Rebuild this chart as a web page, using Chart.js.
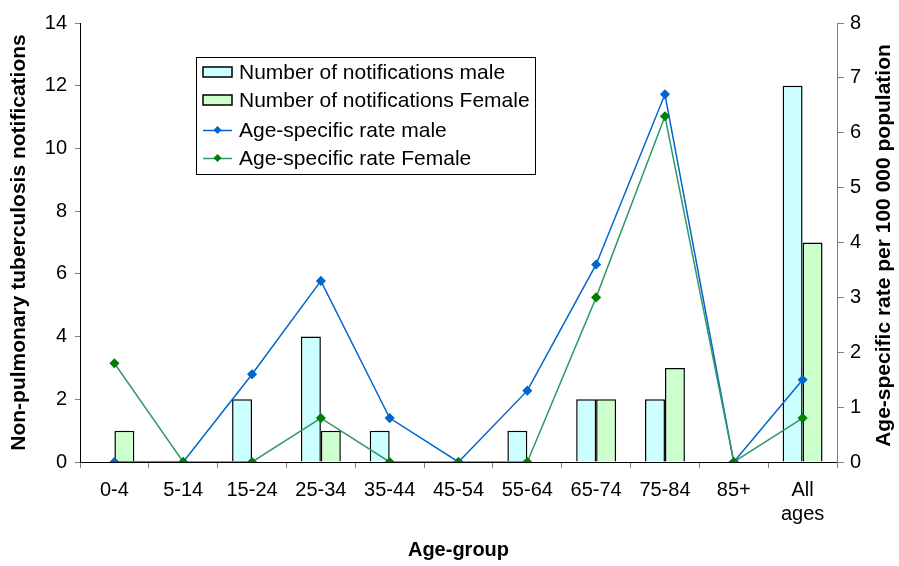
<!DOCTYPE html>
<html><head><meta charset="utf-8">
<script src="https://cdn.jsdelivr.net/npm/chart.js@4/dist/chart.umd.min.js"></script>
<style>html,body{margin:0;padding:0;background:#fff}#wrap{width:899px;height:566px;position:relative}</style>
</head><body><div id="wrap"><canvas id="c" width="899" height="566"></canvas></div>
<script>
const categories = ['0-4','5-14','15-24','25-34','35-44','45-54','55-64','65-74','75-84','85+','All ages'];
const notificationsMale = [0,0,2,4,1,0,1,2,2,0,12];
const notificationsFemale = [1,0,0,1,0,0,0,2,3,0,7];
const rateMale = [0,0,1.6,3.3,0.8,0,1.3,3.6,6.7,0,1.5];
const rateFemale = [1.8,0,0,0.8,0,0,0,3.0,6.3,0,0.8];
const leftTickMax = 14, leftTickStep = 2;
const rightTickMax = 8, rightTickStep = 1;
const leftTitle = 'Non-pulmonary tuberculosis notifications';
const rightTitle = 'Age-specific rate per 100 000 population';
const xTitle = 'Age-group';

const FONT = "'Liberation Sans', Arial, sans-serif";

const customPlugin = {
  id: 'custom',
  afterDraw(chart) {
    const ctx = chart.ctx;
    const ca = chart.chartArea;
    // right axis title (reads bottom-to-top)
    ctx.save();
    ctx.font = 'bold 21px ' + FONT;
    ctx.fillStyle = '#000';
    ctx.textAlign = 'center';
    ctx.textBaseline = 'middle';
    ctx.translate(884, (ca.top + ca.bottom) / 2 + 3);
    ctx.rotate(-Math.PI / 2);
    ctx.fillText(rightTitle, 0, 0);
    ctx.restore();
    // legend box
    const bx = 196, by = 57, bw = 339, bh = 117;
    ctx.save();
    ctx.fillStyle = '#fff';
    ctx.fillRect(bx, by, bw, bh);
    ctx.strokeStyle = '#000';
    ctx.lineWidth = 1;
    ctx.strokeRect(bx + 0.5, by + 0.5, bw, bh);
    ctx.font = '21px ' + FONT;
    ctx.textBaseline = 'middle';
    ctx.textAlign = 'left';
    const rows = [72, 100, 130, 158];
    chart.data.datasets.forEach((ds, i) => {
      const y = rows[i];
      if (ds.type === 'line') {
        ctx.strokeStyle = ds.borderColor;
        ctx.lineWidth = 1.5;
        ctx.beginPath(); ctx.moveTo(203, y + 0.5); ctx.lineTo(232, y + 0.5); ctx.stroke();
        ctx.fillStyle = ds.pointBackgroundColor;
        ctx.beginPath();
        ctx.moveTo(217.5, y - 4); ctx.lineTo(221.5, y); ctx.lineTo(217.5, y + 4); ctx.lineTo(213.5, y);
        ctx.closePath(); ctx.fill();
      } else {
        ctx.fillStyle = ds.backgroundColor;
        ctx.fillRect(203, y - 5, 29, 10);
        ctx.strokeStyle = '#000';
        ctx.lineWidth = 1.5;
        ctx.strokeRect(203, y - 5, 29, 10);
      }
      ctx.fillStyle = '#000';
      ctx.fillText(ds.label, 239, y + 1);
    });
    ctx.restore();
  }
};

new Chart(document.getElementById('c'), {
  data: {
    labels: categories,
    datasets: [
      { type: 'bar', label: 'Number of notifications male', data: notificationsMale, yAxisID: 'y',
        backgroundColor: '#CCFFFF', borderColor: '#000', borderWidth: 1.5, order: 2,
        categoryPercentage: 0.58, barPercentage: 1 },
      { type: 'bar', label: 'Number of notifications Female', data: notificationsFemale, yAxisID: 'y',
        backgroundColor: '#CCFFCC', borderColor: '#000', borderWidth: 1.5, order: 2,
        categoryPercentage: 0.58, barPercentage: 1 },
      { type: 'line', label: 'Age-specific rate male', data: rateMale, yAxisID: 'y1',
        borderColor: '#0066CC', backgroundColor: '#0066CC', pointBackgroundColor: '#0066CC', pointBorderColor: '#0066CC',
        borderWidth: 1.5, pointStyle: 'rectRot', pointRadius: 4, tension: 0, order: 1 },
      { type: 'line', label: 'Age-specific rate Female', data: rateFemale, yAxisID: 'y1',
        borderColor: '#339966', backgroundColor: '#008000', pointBackgroundColor: '#008000', pointBorderColor: '#008000',
        borderWidth: 1.5, pointStyle: 'rectRot', pointRadius: 4, tension: 0, order: 0 }
    ]
  },
  options: {
    responsive: false, devicePixelRatio: 1, animation: false,
    layout: { padding: { top: 23, left: 0, right: 0, bottom: 0 } },
    plugins: { legend: { display: false }, tooltip: { enabled: false } },
    scales: {
      x: {
        offset: true,
        grid: { offset: true, drawOnChartArea: false, drawTicks: true, tickLength: 6, color: '#808080' },
        border: { display: true, color: '#000', width: 1 },
        ticks: { color: '#000', font: { family: FONT, size: 20 }, padding: 10, maxRotation: 0, autoSkip: false,
          callback: function(v, i) { const l = categories[i]; return l.indexOf(' ') > -1 ? l.split(' ') : l; } },
        title: { display: true, text: xTitle, color: '#000', font: { family: FONT, size: 20, weight: 'bold' }, padding: { top: 4, bottom: 4 } },
        afterFit(s) { s.height = 104; }
      },
      y: {
        position: 'left', min: 0, max: leftTickMax,
        grid: { drawOnChartArea: false, drawTicks: true, tickLength: 5, color: '#808080' },
        border: { display: true, color: '#000', width: 1 },
        ticks: { stepSize: leftTickStep, color: '#000', font: { family: FONT, size: 20 }, padding: 8 },
        title: { display: true, text: leftTitle, color: '#000', font: { family: FONT, size: 21, weight: 'bold' }, padding: { top: 7, bottom: 4 } },
        afterFit(s) { s.width = 80; }
      },
      y1: {
        position: 'right', min: 0, max: rightTickMax,
        grid: { drawOnChartArea: false, drawTicks: true, tickLength: 7, color: '#808080' },
        border: { display: true, color: '#808080', width: 1 },
        ticks: { stepSize: rightTickStep, color: '#000', font: { family: FONT, size: 20 }, padding: 6 },
        afterFit(s) { s.width = 62; }
      }
    }
  },
  plugins: [customPlugin]
});
</script></body></html>
